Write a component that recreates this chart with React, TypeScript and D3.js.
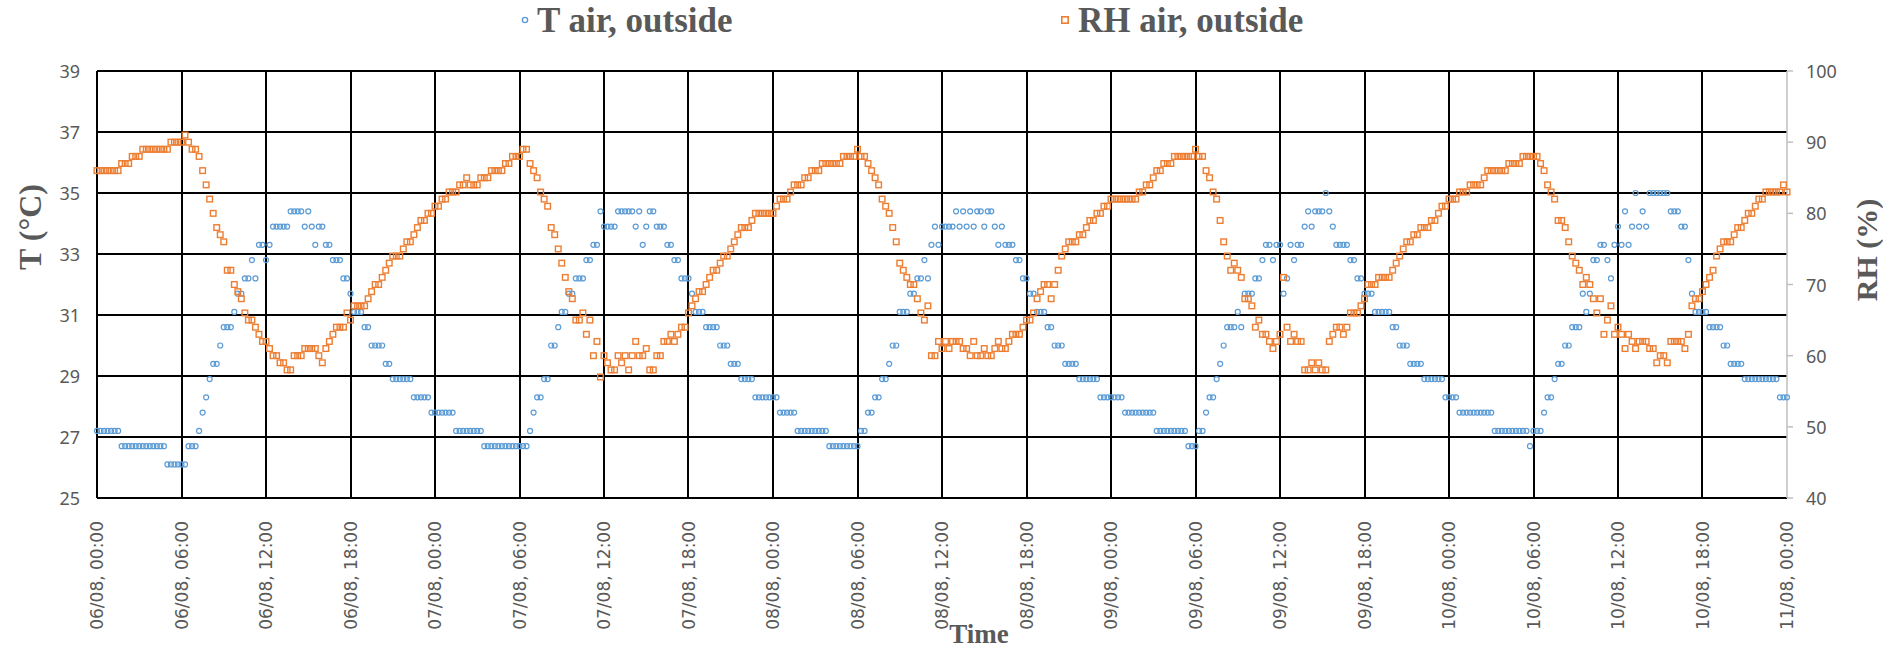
import React from "react";
import * as d3 from "d3";

// Outdoor air temperature (°C), as [value, consecutive 15-minute readings], from 06/08 00:00
const TEMP_RUNS: [number, number][] = [
  [27.2, 7], [26.7, 13], [26.1, 6], [26.7, 3], [27.2, 1], [27.8, 1], [28.3, 1], [28.9, 1],
  [29.4, 2], [30.0, 1], [30.6, 3], [31.1, 1], [31.7, 2], [32.2, 2], [32.8, 1], [32.2, 1],
  [33.3, 2], [32.8, 1], [33.3, 1], [33.9, 5], [34.4, 4], [33.9, 1], [34.4, 1], [33.9, 1],
  [33.3, 1], [33.9, 2], [33.3, 2], [32.8, 3], [32.2, 2], [31.7, 1], [31.1, 3], [30.6, 2],
  [30.0, 4], [29.4, 2], [28.9, 6], [28.3, 5], [27.8, 7], [27.2, 8], [26.7, 13], [27.2, 1],
  [27.8, 1], [28.3, 2], [28.9, 2], [30.0, 2], [30.6, 1], [31.1, 2], [31.7, 2], [32.2, 3],
  [32.8, 2], [33.3, 2], [34.4, 1], [33.9, 4], [34.4, 5], [33.9, 1], [34.4, 1], [33.3, 1],
  [33.9, 1], [34.4, 2], [33.9, 3], [33.3, 2], [32.8, 2], [32.2, 3], [31.7, 1], [31.1, 3],
  [30.6, 4], [30.0, 3], [29.4, 3], [28.9, 4], [28.3, 7], [27.8, 5], [27.2, 9], [26.7, 9],
  [27.2, 2], [27.8, 2], [28.3, 2], [28.9, 2], [29.4, 1], [30.0, 2], [31.1, 3], [31.7, 2],
  [32.2, 2], [32.8, 1], [32.2, 1], [33.3, 1], [33.9, 1], [33.3, 1], [33.9, 4], [34.4, 1],
  [33.9, 1], [34.4, 1], [33.9, 1], [34.4, 1], [33.9, 1], [34.4, 2], [33.9, 1], [34.4, 2],
  [33.9, 1], [33.3, 1], [33.9, 1], [33.3, 3], [32.8, 2], [32.2, 2], [31.7, 2], [31.1, 3],
  [30.6, 2], [30.0, 3], [29.4, 4], [28.9, 6], [28.3, 7], [27.8, 9], [27.2, 9], [26.7, 3],
  [27.2, 2], [27.8, 1], [28.3, 2], [28.9, 1], [29.4, 1], [30.0, 1], [30.6, 3], [31.1, 1],
  [30.6, 1], [31.7, 3], [32.2, 2], [32.8, 1], [33.3, 2], [32.8, 1], [33.3, 2], [31.7, 1],
  [32.2, 1], [33.3, 1], [32.8, 1], [33.3, 2], [33.9, 1], [34.4, 1], [33.9, 1], [34.4, 3],
  [35.0, 1], [34.4, 1], [33.9, 1], [33.3, 4], [32.8, 2], [32.2, 2], [31.7, 3], [31.1, 5],
  [30.6, 2], [30.0, 3], [29.4, 4], [28.9, 6], [28.3, 4], [27.8, 10], [27.2, 10], [26.7, 1],
  [27.2, 3], [27.8, 1], [28.3, 2], [28.9, 1], [29.4, 2], [30.0, 2], [30.6, 3], [31.7, 1],
  [31.1, 1], [31.7, 1], [32.8, 2], [33.3, 2], [32.8, 1], [32.2, 1], [33.3, 1], [33.9, 1],
  [33.3, 1], [34.4, 1], [33.3, 1], [33.9, 1], [35.0, 1], [33.9, 1], [34.4, 1], [33.9, 1],
  [35.0, 6], [34.4, 3], [33.9, 2], [32.8, 1], [31.7, 1], [31.1, 4], [30.6, 4], [30.0, 2],
  [29.4, 4], [28.9, 10], [28.3, 3],
];

// Outdoor relative humidity (%), same encoding and time base
const RH_RUNS: [number, number][] = [
  [86, 7], [87, 3], [88, 3], [89, 8], [90, 4], [91, 1], [90, 1], [89, 2], [88, 1], [86, 1],
  [84, 1], [82, 1], [80, 1], [78, 1], [77, 1], [76, 1], [72, 2], [70, 1], [69, 1], [68, 1],
  [66, 1], [65, 2], [64, 1], [63, 1], [62, 2], [61, 1], [60, 2], [59, 2], [58, 2], [60, 3],
  [61, 4], [60, 1], [59, 1], [61, 1], [62, 1], [63, 1], [64, 3], [66, 1], [65, 1], [67, 4],
  [68, 1], [69, 1], [70, 2], [71, 1], [72, 1], [73, 1], [74, 3], [75, 1], [76, 2], [77, 1],
  [78, 1], [79, 2], [80, 2], [81, 2], [82, 2], [83, 3], [84, 2], [85, 1], [84, 3], [85, 3],
  [86, 4], [87, 2], [88, 3], [89, 2], [87, 1], [86, 1], [85, 1], [83, 1], [82, 1], [81, 1],
  [78, 1], [77, 1], [75, 1], [73, 1], [71, 1], [69, 1], [68, 1], [65, 2], [66, 1], [63, 1],
  [65, 1], [60, 1], [62, 1], [57, 1], [60, 1], [59, 1], [58, 2], [60, 1], [59, 1], [60, 1],
  [58, 1], [60, 1], [62, 1], [60, 2], [61, 1], [58, 2], [60, 2], [62, 2], [63, 1], [62, 1],
  [63, 1], [64, 2], [66, 1], [67, 1], [68, 1], [69, 2], [70, 1], [71, 1], [72, 2], [73, 1],
  [74, 2], [75, 1], [76, 1], [77, 1], [78, 3], [79, 1], [80, 6], [81, 1], [82, 3], [83, 1],
  [84, 3], [85, 2], [86, 3], [87, 6], [88, 4], [89, 1], [88, 2], [87, 1], [86, 1], [85, 1],
  [84, 1], [82, 1], [81, 1], [80, 1], [78, 1], [76, 1], [73, 1], [72, 1], [71, 1], [70, 2],
  [68, 1], [66, 1], [65, 1], [67, 1], [60, 2], [62, 1], [61, 1], [62, 1], [61, 1], [62, 3],
  [61, 2], [60, 1], [62, 1], [60, 2], [61, 1], [60, 2], [61, 1], [62, 1], [61, 2], [62, 1],
  [63, 3], [64, 1], [65, 2], [66, 1], [68, 1], [69, 1], [70, 2], [68, 1], [70, 1], [72, 1],
  [74, 1], [75, 1], [76, 3], [77, 2], [78, 1], [79, 2], [80, 2], [81, 2], [82, 8], [83, 2],
  [84, 2], [85, 1], [86, 2], [87, 3], [88, 6], [89, 1], [88, 2], [86, 1], [85, 1], [83, 1],
  [82, 1], [79, 1], [76, 1], [74, 1], [72, 1], [73, 1], [72, 1], [71, 1], [68, 2], [67, 1],
  [64, 1], [65, 1], [63, 2], [62, 1], [61, 1], [62, 1], [63, 1], [71, 1], [64, 1], [62, 1],
  [63, 1], [62, 2], [58, 2], [59, 1], [58, 1], [59, 1], [58, 2], [62, 1], [63, 1], [64, 2],
  [63, 1], [64, 1], [66, 3], [67, 1], [68, 1], [70, 3], [71, 4], [72, 1], [73, 1], [74, 1],
  [75, 1], [76, 2], [77, 2], [78, 3], [79, 2], [80, 1], [81, 2], [82, 3], [83, 3], [84, 4],
  [85, 1], [86, 6], [87, 4], [88, 5], [87, 1], [86, 1], [84, 1], [83, 1], [82, 1], [79, 2],
  [78, 1], [76, 1], [74, 1], [73, 1], [72, 1], [70, 1], [71, 1], [70, 1], [68, 1], [66, 1],
  [68, 1], [63, 1], [65, 1], [67, 1], [63, 1], [64, 1], [63, 1], [61, 1], [63, 1], [62, 1],
  [61, 1], [62, 3], [61, 2], [59, 1], [60, 2], [59, 1], [62, 4], [61, 1], [63, 1], [67, 1],
  [68, 2], [69, 1], [70, 1], [71, 1], [72, 1], [74, 1], [75, 1], [76, 3], [77, 1], [78, 2],
  [79, 1], [80, 2], [81, 1], [82, 2], [83, 5], [84, 1], [83, 1],
];

// Time axis labels, one every 6 hours
const X_TICK_LABELS = [
  "06/08, 00:00", "06/08, 06:00", "06/08, 12:00", "06/08, 18:00",
  "07/08, 00:00", "07/08, 06:00", "07/08, 12:00", "07/08, 18:00",
  "08/08, 00:00", "08/08, 06:00", "08/08, 12:00", "08/08, 18:00",
  "09/08, 00:00", "09/08, 06:00", "09/08, 12:00", "09/08, 18:00",
  "10/08, 00:00", "10/08, 06:00", "10/08, 12:00", "10/08, 18:00",
  "11/08, 00:00",
];
const T_TICKS = [25, 27, 29, 31, 33, 35, 37, 39];
const RH_TICKS = [40, 50, 60, 70, 80, 90, 100];

const W = 1883;
const H = 650;
const PLOT = { left: 97, right: 1787, top: 71, bottom: 498 };
const HOURS_PER_READING = 0.25;
const HOURS_PER_TICK = 6;

const TEXT_GREY = "#595959";
const BLUE = "#5B9BD5";
const ORANGE = "#ED7D31";
const SERIF = "'Times New Roman', 'Liberation Serif', serif";
const SANS = "'Noto Sans', 'DejaVu Sans', sans-serif";

const expand = (runs: [number, number][]) =>
  runs.flatMap(([v, n]) => Array.from({ length: n }, () => v));

const temperature = expand(TEMP_RUNS);
const humidity = expand(RH_RUNS);

export default function App() {
  const totalHours = (X_TICK_LABELS.length - 1) * HOURS_PER_TICK;
  const x = d3.scaleLinear().domain([0, totalHours]).range([PLOT.left, PLOT.right]);
  const yT = d3.scaleLinear().domain([25, 39]).range([PLOT.bottom, PLOT.top]);
  const yRH = d3.scaleLinear().domain([40, 100]).range([PLOT.bottom, PLOT.top]);

  const sq = 5.6;

  return (
    <svg
      width={W}
      height={H}
      viewBox={`0 0 ${W} ${H}`}
      style={{ position: "absolute", left: 0, top: 0, background: "#fff" }}
    >
      <rect width={W} height={H} fill="#fff" />

      {/* horizontal gridlines */}
      {T_TICKS.map((t) => (
        <line
          key={`h${t}`}
          x1={PLOT.left}
          x2={PLOT.right}
          y1={Math.round(yT(t))}
          y2={Math.round(yT(t))}
          stroke="#000"
          strokeWidth={2}
        />
      ))}

      {/* vertical gridlines every 6 hours */}
      {X_TICK_LABELS.slice(0, -1).map((_, k) => {
        const gx = Math.round(x(k * HOURS_PER_TICK));
        return (
          <line key={`v${k}`} x1={gx} x2={gx} y1={PLOT.top} y2={PLOT.bottom} stroke="#000" strokeWidth={2} />
        );
      })}

      {/* secondary axis */}
      <line x1={PLOT.right} x2={PLOT.right} y1={PLOT.top} y2={PLOT.bottom} stroke="#BFBFBF" strokeWidth={1.5} />
      {RH_TICKS.map((r) => (
        <line key={`rt${r}`} x1={PLOT.right} x2={PLOT.right + 6} y1={yRH(r)} y2={yRH(r)} stroke="#BFBFBF" strokeWidth={1.5} />
      ))}

      {/* temperature markers */}
      <g fill="none" stroke={BLUE} strokeWidth={1.2}>
        {temperature.map((v, i) => (
          <circle key={`t${i}`} cx={x(i * HOURS_PER_READING)} cy={yT(v)} r={2.5} />
        ))}
      </g>

      {/* humidity markers */}
      <g fill="none" stroke={ORANGE} strokeWidth={1.4}>
        {humidity.map((v, i) => (
          <rect
            key={`r${i}`}
            x={x(i * HOURS_PER_READING) - sq / 2}
            y={yRH(v) - sq / 2}
            width={sq}
            height={sq}
          />
        ))}
      </g>

      {/* left axis labels */}
      {T_TICKS.map((t) => (
        <text
          key={`tl${t}`}
          x={80}
          y={yT(t)}
          textAnchor="end"
          dominantBaseline="central"
          fontFamily={SANS}
          fontSize={18}
          fill={TEXT_GREY}
        >
          {t}
        </text>
      ))}

      {/* right axis labels */}
      {RH_TICKS.map((r) => (
        <text
          key={`rl${r}`}
          x={1806}
          y={yRH(r)}
          textAnchor="start"
          dominantBaseline="central"
          fontFamily={SANS}
          fontSize={18}
          fill={TEXT_GREY}
        >
          {r}
        </text>
      ))}

      {/* time labels */}
      {X_TICK_LABELS.map((label, k) => (
        <text
          key={`xl${k}`}
          transform={`translate(${x(k * HOURS_PER_TICK)},${521}) rotate(-90)`}
          textAnchor="end"
          dominantBaseline="central"
          fontFamily="'DejaVu Sans', sans-serif"
          fontSize={17}
          fill={TEXT_GREY}
        >
          {label}
        </text>
      ))}

      {/* axis titles */}
      <text
        transform="translate(30,227) rotate(-90)"
        textAnchor="middle"
        dominantBaseline="central"
        fontFamily={SERIF}
        fontWeight="bold"
        fontSize={32}
        fill={TEXT_GREY}
      >
        T (°C)
      </text>
      <text
        transform="translate(1866,250) rotate(-90)"
        textAnchor="middle"
        dominantBaseline="central"
        fontFamily={SERIF}
        fontWeight="bold"
        fontSize={30}
        fill={TEXT_GREY}
      >
        RH (%)
      </text>
      <text x={979} y={643} textAnchor="middle" fontFamily={SERIF} fontWeight="bold" fontSize={27} fill={TEXT_GREY}>
        Time
      </text>

      {/* legend */}
      <circle cx={525} cy={20} r={2.6} fill="none" stroke={BLUE} strokeWidth={1.4} />
      <text x={537} y={32} fontFamily={SERIF} fontWeight="bold" fontSize={35} fill={TEXT_GREY}>
        T air, outside
      </text>
      <rect x={1065 - 3.2} y={20 - 3.2} width={6.4} height={6.4} fill="none" stroke={ORANGE} strokeWidth={1.6} />
      <text x={1078} y={32} fontFamily={SERIF} fontWeight="bold" fontSize={35} fill={TEXT_GREY}>
        RH air, outside
      </text>
    </svg>
  );
}
